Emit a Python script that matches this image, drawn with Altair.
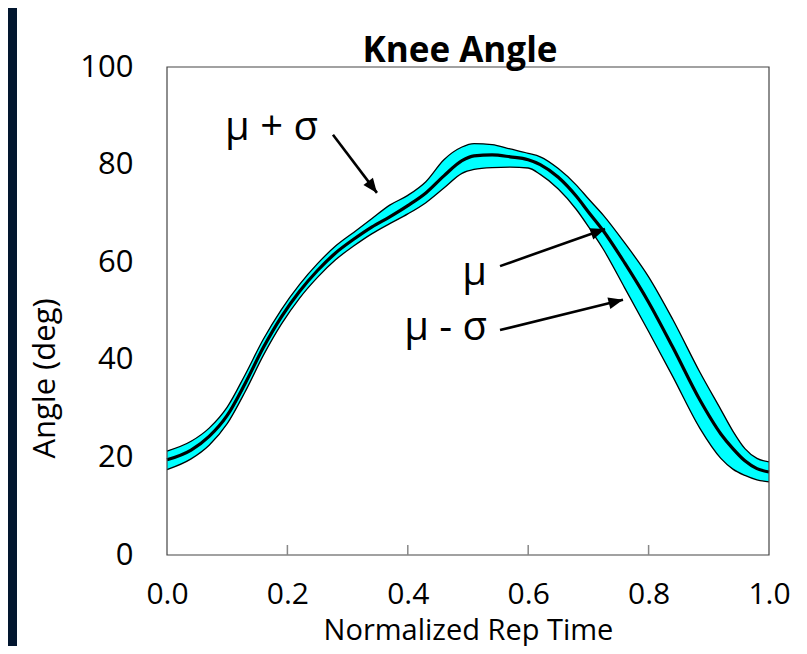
import math
import altair as alt
import pandas as pd

# ---- data ----
t = [0.00, 0.04, 0.07, 0.10, 0.13, 0.16, 0.19, 0.22, 0.25, 0.28, 0.31, 0.34,
     0.37, 0.40, 0.43, 0.46, 0.49, 0.51, 0.54, 0.57, 0.60, 0.62, 0.65, 0.68,
     0.70, 0.725, 0.76, 0.80, 0.84, 0.885, 0.92, 0.94, 0.96, 0.98, 1.00]
mean = [19.5, 21.5, 24.3, 28.6, 35.2, 42.5, 48.8, 54.0, 58.3, 61.9, 64.7, 67.2,
        69.3, 71.6, 74.2, 77.7, 80.8, 81.8, 82.0, 81.6, 81.0, 80.0, 77.4, 73.5,
        70.3, 66.4, 59.9, 51.8, 42.6, 31.8, 24.8, 21.8, 19.3, 17.7, 17.0]
upper = [21.3, 23.3, 26.0, 30.3, 37.0, 44.2, 50.3, 55.4, 59.7, 63.3, 66.1, 68.9,
         71.7, 73.7, 76.5, 81.0, 83.6, 84.3, 84.1, 83.2, 82.3, 81.6, 79.2, 75.8,
         73.0, 69.6, 64.0, 57.0, 48.3, 37.5, 29.8, 25.4, 21.8, 19.8, 19.1]
lower = [17.5, 19.7, 22.5, 26.9, 33.5, 40.9, 47.3, 52.6, 56.9, 60.5, 63.3, 65.8,
         67.9, 69.9, 72.2, 75.2, 78.2, 79.0, 79.4, 79.5, 79.3, 78.0, 75.0, 70.8,
         67.3, 62.6, 54.8, 45.8, 36.6, 26.0, 19.8, 17.6, 16.3, 15.4, 15.0]

x_ticks = [0.0, 0.2, 0.4, 0.6, 0.8, 1.0]
y_ticks = [0, 20, 40, 60, 80, 100]
inner_ticks = [0.2, 0.4, 0.6, 0.8]

labels = ["μ + σ", "μ", "μ - σ"]
label_t = [0.2508, 0.5316, 0.5316]
label_v = [85.0, 55.3, 44.1]

arrow_t0 = [0.2757, 0.5532, 0.5532]
arrow_v0 = [86.1, 59.2, 46.1]
arrow_t1 = [0.3488, 0.7276, 0.7575]
arrow_v1 = [74.2, 66.8, 52.3]

# ---- layout ----
W, H = 602, 488
FONT = "Open Sans"
NAVY = "#02162f"

curve = pd.DataFrame({"t": t, "mean": mean, "upper": upper, "lower": lower})
arrows = pd.DataFrame({"t0": arrow_t0, "v0": arrow_v0, "t1": arrow_t1, "v1": arrow_v1})
arrows["angle"] = [
    (math.degrees(math.atan2((b - a) * W, (d - c) / 100 * H)) + 360) % 360
    for a, b, c, d in zip(arrow_t0, arrow_t1, arrow_v0, arrow_v1)
]
text_df = pd.DataFrame({"label": labels, "t": label_t, "v": label_v})
tick_df = pd.DataFrame({"t": inner_ticks})
one = pd.DataFrame({"a": [0]})

xs = alt.Scale(domain=[0, 1], nice=False)
ys = alt.Scale(domain=[0, 100], nice=False)

x_axis = alt.Axis(values=x_ticks, format=".1f", labelFont=FONT, labelFontSize=30,
                  labelColor="black", ticks=False, tickSize=0, domain=False, grid=False,
                  labelPadding=24, labelFlush=False, labelOverlap=False,
                  title="Normalized Rep Time", titleFont=FONT, titleFontSize=29,
                  titleFontWeight="normal", titleColor="black", titleY=84,
                  titleBaseline="alphabetic", zindex=1)
y_axis = alt.Axis(values=y_ticks, format="d", labelFont=FONT, labelFontSize=31,
                  labelColor="black", ticks=False, tickSize=0, domain=False, grid=False,
                  labelPadding=34, labelOverlap=False,
                  title="Angle (deg)", titleFont=FONT, titleFontSize=31,
                  titleFontWeight="normal", titleColor="black", titleX=-122, titleY=311,
                  titleAngle=270, titleAlign="center", titleBaseline="middle", zindex=1)

panel = alt.Chart(one).mark_rect(color="white").encode(
    x=alt.value(-150), x2=alt.value(W + 40), y=alt.value(-61), y2=alt.value(H + 120))

base = alt.Chart(curve)
band = base.mark_area(color="#00ffff", interpolate="monotone").encode(
    x=alt.X("t:Q", scale=xs, axis=x_axis),
    y=alt.Y("upper:Q", scale=ys, axis=y_axis),
    y2="lower:Q")
up_line = base.mark_line(color="black", strokeWidth=1.3, interpolate="monotone").encode(
    x="t:Q", y="upper:Q")
lo_line = base.mark_line(color="black", strokeWidth=1.3, interpolate="monotone").encode(
    x="t:Q", y="lower:Q")
mean_line = base.mark_line(color="black", strokeWidth=3.2, interpolate="monotone").encode(
    x="t:Q", y="mean:Q")

frame = alt.Chart(one).mark_rect(fill="transparent", stroke="#444444", strokeWidth=1.2).encode(
    x=alt.value(0), x2=alt.value(W), y=alt.value(0), y2=alt.value(H))

inner = alt.Chart(tick_df).mark_rule(color="#888888", strokeWidth=1.5).encode(
    x="t:Q", y=alt.value(H), y2=alt.value(H - 10))

shafts = alt.Chart(arrows).mark_rule(color="black", strokeWidth=2.6).encode(
    x="t0:Q", y="v0:Q", x2="t1:Q", y2="v1:Q")
heads = alt.Chart(arrows).mark_point(
    shape="M0,0L0.45,1.1L-0.45,1.1Z", filled=True, color="black", opacity=1, size=700
).encode(x="t1:Q", y="v1:Q", angle=alt.Angle("angle:Q", scale=None))

texts = alt.Chart(text_df).mark_text(align="right", baseline="alphabetic", font=FONT,
                                      fontSize=40, color="black").encode(
    x="t:Q", y="v:Q", text="label:N")

chart = alt.layer(panel, band, up_line, lo_line, mean_line, frame, inner, shafts, heads, texts).properties(
    width=W, height=H,
    title=alt.TitleParams("Knee Angle", font=FONT, fontSize=35, fontWeight="bold",
                          color="black", anchor="middle", frame="group", dx=-8,
                          offset=4, dy=67, zindex=1),
    autosize=alt.AutoSizeParams(type="none"),
    padding={"left": 159, "top": 59, "right": 30, "bottom": 91},
    background=NAVY,
).configure_view(stroke=None)

chart.save("out.html", embed_options={"renderer": "svg", "actions": False})
